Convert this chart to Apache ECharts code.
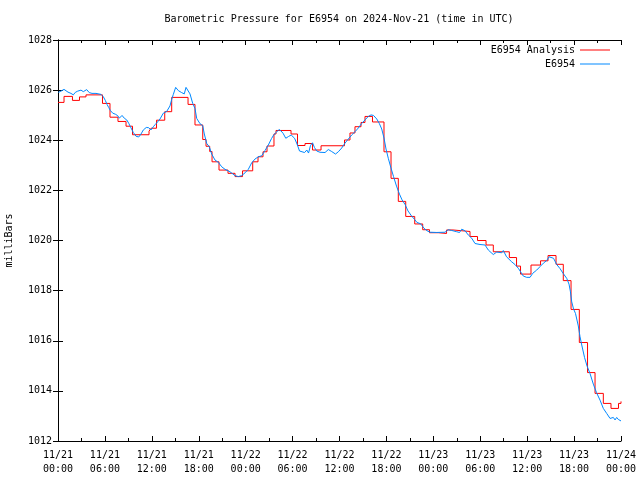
<!DOCTYPE html>
<html><head><meta charset="utf-8">
<script src="https://cdn.jsdelivr.net/npm/echarts@6/dist/echarts.min.js"></script>
<style>html,body{margin:0;padding:0;background:#fff}#c{width:640px;height:480px}</style>
</head><body><div id="c"></div>
<script>
// hours since 2024-11-21 00:00 UTC
const redHours = [0,0.77,1.85,2.75,3.58,5.69,6.65,7.67,8.70,9.53,11.64,11.89,12.60,13.65,14.54,16.63,17.52,18.51,18.93,19.40,19.70,20.59,21.74,22.64,23.60,24.90,25.58,26.22,26.73,27.62,27.88,29.80,30.63,31.59,32.55,33.64,36.64,37.34,37.98,38.75,39.26,40.22,41.69,42.59,43.52,44.47,45.62,46.64,47.51,48.64,49.69,50.52,52.69,53.65,54.74,55.67,57.72,58.64,59.15,60.49,61.71,62.67,63.69,64.62,65.61,66.67,67.72,68.68,69.74,70.72,71.68,72.0];
const redValues = [1025.51,1025.75,1025.59,1025.73,1025.81,1025.47,1024.92,1024.75,1024.56,1024.22,1024.36,1024.48,1024.80,1025.14,1025.71,1025.43,1024.61,1024.03,1023.76,1023.55,1023.14,1022.81,1022.68,1022.55,1022.78,1023.14,1023.34,1023.54,1023.77,1024.25,1024.39,1024.25,1023.79,1023.87,1023.61,1023.78,1024.01,1024.29,1024.54,1024.71,1024.95,1024.73,1023.54,1022.48,1021.56,1020.96,1020.66,1020.43,1020.31,1020.28,1020.42,1020.36,1020.16,1020.00,1019.82,1019.55,1019.32,1018.98,1018.66,1019.02,1019.19,1019.40,1019.05,1018.40,1017.25,1015.93,1014.73,1013.90,1013.50,1013.30,1013.50,1013.58];

const blueHours = [0.04,0.38,0.77,1.02,1.28,1.66,1.96,2.21,2.52,2.94,3.24,3.67,4.00,4.35,4.86,5.08,5.50,5.79,6.05,6.27,6.48,6.69,7.00,7.33,7.64,7.84,8.19,8.48,8.79,9.04,9.34,9.63,9.98,10.32,10.62,10.91,11.29,11.60,11.89,12.19,12.44,12.73,13.05,13.47,13.90,14.32,14.54,14.75,15.05,15.39,15.82,16.15,16.37,16.59,16.88,17.23,17.52,17.74,18.16,18.51,18.71,19.02,19.35,19.66,20.08,20.50,20.94,21.36,22.00,22.64,23.06,23.49,23.92,24.34,24.77,25.19,25.62,26.05,26.47,26.90,27.31,27.62,27.97,28.26,28.52,28.78,29.13,29.48,29.82,30.25,30.57,30.89,31.21,31.53,31.82,32.04,32.29,32.55,32.80,33.09,33.51,34.15,34.57,35.00,35.49,35.85,36.28,36.71,37.13,37.56,37.98,38.41,38.84,39.26,39.68,40.03,40.35,40.76,41.09,41.40,41.69,41.95,42.24,42.55,42.91,43.29,43.67,44.00,44.38,44.76,45.21,45.60,45.91,46.36,46.81,47.19,47.58,48.43,49.49,49.91,50.35,50.99,51.35,51.63,52.05,52.47,52.91,53.33,53.97,54.61,55.03,55.38,55.67,56.11,56.75,56.95,57.36,58.02,58.45,58.87,59.09,59.51,59.94,60.37,60.71,61.22,61.65,62.09,62.50,62.80,63.05,63.37,63.78,64.20,64.62,65.06,65.35,65.52,65.70,65.93,66.18,66.54,66.76,66.98,67.34,67.66,68.04,68.46,68.87,69.32,69.74,70.17,70.60,70.81,71.02,71.24,71.45,71.66,71.87,72.0];
const blueValues = [1025.91,1025.96,1026.03,1025.96,1025.92,1025.87,1025.81,1025.91,1025.96,1026.00,1025.94,1026.02,1025.90,1025.87,1025.87,1025.91,1025.83,1025.74,1025.59,1025.43,1025.31,1025.19,1025.08,1025.04,1024.98,1024.88,1024.99,1024.88,1024.81,1024.68,1024.49,1024.31,1024.16,1024.13,1024.25,1024.41,1024.51,1024.50,1024.41,1024.54,1024.63,1024.73,1024.85,1025.08,1025.15,1025.37,1025.63,1025.83,1026.11,1025.98,1025.90,1025.85,1026.11,1026.11,1025.85,1025.47,1025.27,1024.87,1024.66,1024.58,1024.25,1023.87,1023.74,1023.45,1023.21,1023.12,1022.94,1022.84,1022.74,1022.59,1022.55,1022.59,1022.70,1022.84,1023.10,1023.25,1023.34,1023.38,1023.59,1023.81,1024.07,1024.23,1024.33,1024.43,1024.37,1024.28,1024.08,1024.15,1024.21,1024.08,1023.85,1023.57,1023.54,1023.51,1023.61,1023.49,1023.79,1023.90,1023.71,1023.57,1023.52,1023.51,1023.63,1023.55,1023.45,1023.54,1023.69,1023.89,1024.05,1024.21,1024.34,1024.49,1024.67,1024.81,1024.95,1025.01,1024.99,1024.85,1024.67,1024.45,1024.09,1023.65,1023.28,1022.93,1022.55,1022.17,1021.85,1021.62,1021.44,1021.18,1020.98,1020.84,1020.72,1020.67,1020.49,1020.39,1020.33,1020.32,1020.33,1020.43,1020.40,1020.35,1020.32,1020.45,1020.39,1020.22,1020.09,1019.88,1019.84,1019.82,1019.62,1019.52,1019.44,1019.54,1019.51,1019.60,1019.35,1019.15,1019.04,1018.89,1018.82,1018.58,1018.53,1018.53,1018.69,1018.82,1018.96,1019.10,1019.20,1019.35,1019.42,1019.29,1019.04,1018.88,1018.68,1018.49,1018.26,1017.98,1017.55,1017.27,1017.09,1016.59,1016.16,1015.83,1015.33,1014.99,1014.69,1014.27,1013.93,1013.63,1013.30,1013.10,1012.90,1012.84,1012.94,1012.84,1012.94,1012.86,1012.82,1012.80];

const xTickLabels = ['11/21\n00:00','11/21\n06:00','11/21\n12:00','11/21\n18:00','11/22\n00:00','11/22\n06:00','11/22\n12:00','11/22\n18:00','11/23\n00:00','11/23\n06:00','11/23\n12:00','11/23\n18:00','11/24\n00:00'];
const yTicks = [1012,1014,1016,1018,1020,1022,1024,1026,1028];
const seriesNames = ['E6954 Analysis','E6954'];
const titleText = 'Barometric Pressure for E6954 on 2024-Nov-21 (time in UTC)';

const FONT = 'DejaVu Sans Mono';
const chart = echarts.init(document.getElementById('c'), null, {renderer:'canvas'});
const zip = (a,b)=>a.map((v,i)=>[v,b[i]]);
const txt = {color:'#000', fontFamily:FONT, fontSize:10};

const xBase = {type:'value', min:0, max:72, interval:6, splitLine:{show:false},
  axisLine:{show:true, lineStyle:{color:'#000', width:1}},
  axisTick:{show:true, inside:true, length:5, lineStyle:{color:'#000'}},
  minorTick:{show:true, splitNumber:2, length:3, lineStyle:{color:'#000'}}};
const yBase = {type:'value', min:yTicks[0], max:yTicks[yTicks.length-1], interval:2, splitLine:{show:false},
  axisLine:{show:true, lineStyle:{color:'#000', width:1}},
  axisTick:{show:true, inside:true, length:5, lineStyle:{color:'#000'}}};

chart.setOption({
  backgroundColor:'#fff',
  animation:false,
  title:{text:titleText, left:334, textAlign:'center', top:9, textStyle:{...txt, fontWeight:'normal', fontSize:10}},
  legend:[
    {data:[seriesNames[0]], right:25, top:40, align:'right', icon:'rect', itemWidth:30, itemHeight:1, textStyle:txt, selectedMode:false},
    {data:[seriesNames[1]], right:25, top:54, align:'right', icon:'rect', itemWidth:30, itemHeight:1, textStyle:txt, selectedMode:false}
  ],
  grid:{left:58, right:19, top:40, bottom:39, containLabel:false, outerBoundsMode:'none'},
  xAxis:[
    {...xBase, position:'bottom', axisLabel:{...txt, lineHeight:14, margin:7, formatter:(v)=>xTickLabels[Math.round(v/6)]}},
    {...xBase, position:'top', axisLabel:{show:false}}
  ],
  yAxis:[
    {...yBase, position:'left', name:'milliBars', nameLocation:'middle', nameGap:44, nameTextStyle:txt,
      axisLabel:{...txt, margin:6, formatter:(v)=>String(v)}},
    {...yBase, position:'right', axisLabel:{show:false}}
  ],
  series:[
    {name:seriesNames[0], type:'line', step:'end', data:zip(redHours, redValues), showSymbol:false, symbol:'none',
      lineStyle:{color:'#ff0000', width:1}, itemStyle:{color:'#ff0000'}},
    {name:seriesNames[1], type:'line', data:zip(blueHours, blueValues), showSymbol:false, symbol:'none',
      lineStyle:{color:'#0088ff', width:1}, itemStyle:{color:'#0088ff'}}
  ]
});
</script></body></html>
